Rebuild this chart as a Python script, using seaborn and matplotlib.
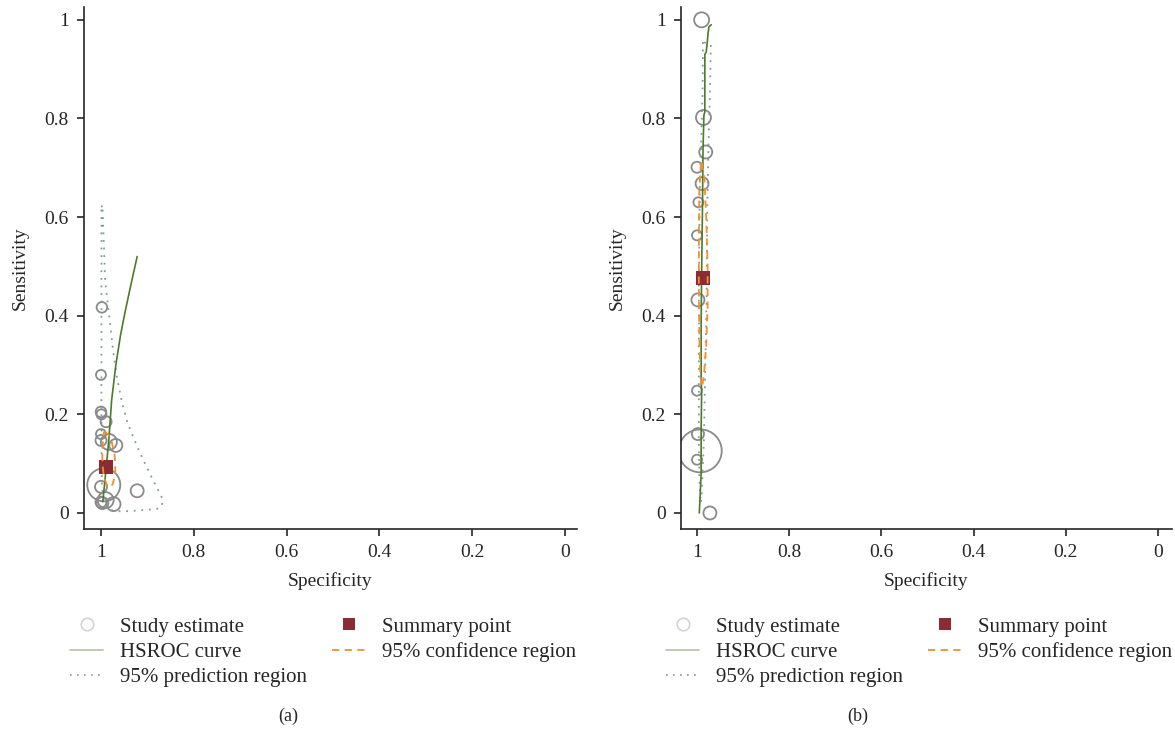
import numpy as np
import pandas as pd
import matplotlib
matplotlib.use("Agg")
import matplotlib.pyplot as plt
from matplotlib.lines import Line2D
import seaborn as sns

# ---------------- data ----------------
# Panel (a): study estimates
a_spec = [0.998, 1.000, 1.000, 0.999, 0.989, 1.000, 1.000, 0.983, 0.968, 0.922,
          0.994, 1.000, 0.990, 1.000, 0.997, 0.973]
a_sens = [0.417, 0.280, 0.205, 0.200, 0.185, 0.160, 0.147, 0.144, 0.137, 0.045,
          0.057, 0.053, 0.026, 0.022, 0.020, 0.018]
a_rad = [5.3, 5.0, 5.3, 5.0, 5.5, 5.0, 5.5, 8.0, 6.5, 6.5,
         16.5, 6.0, 8.0, 5.5, 6.0, 7.0]
a_sum_spec = [0.989]
a_sum_sens = [0.093]
a_hsroc_spec = [0.996, 0.990, 0.983, 0.977, 0.968, 0.958, 0.948, 0.935, 0.922]
a_hsroc_sens = [0.023, 0.080, 0.150, 0.229, 0.300, 0.360, 0.408, 0.465, 0.520]
a_pred_spec = [0.999, 0.997, 0.994, 0.991, 0.986, 0.981, 0.974, 0.966, 0.956, 0.945,
               0.931, 0.916, 0.902, 0.888, 0.876, 0.866, 0.870, 0.880, 0.920, 0.955,
               0.975, 0.990, 0.998, 0.999, 0.999, 0.999]
a_pred_sens = [0.620, 0.625, 0.550, 0.470, 0.430, 0.390, 0.330, 0.277, 0.230, 0.189,
               0.155, 0.122, 0.094, 0.067, 0.045, 0.026, 0.012, 0.008, 0.005, 0.003,
               0.005, 0.015, 0.050, 0.200, 0.400, 0.620]
a_conf_spec = [0.993, 0.985, 0.977, 0.971, 0.969, 0.970, 0.975, 0.981, 0.988, 0.994,
               0.997, 0.997, 0.995, 0.993]
a_conf_sens = [0.165, 0.160, 0.145, 0.120, 0.095, 0.075, 0.058, 0.052, 0.058, 0.075,
               0.100, 0.130, 0.155, 0.165]

# Panel (b): study estimates
b_spec = [0.990, 0.986, 0.981, 1.000, 0.989, 0.997, 1.000, 0.998, 1.000, 0.998,
          1.000, 0.993, 0.972]
b_sens = [1.000, 0.802, 0.732, 0.701, 0.668, 0.630, 0.563, 0.432, 0.248, 0.160,
          0.108, 0.126, 0.000]
b_rad = [7.5, 7.5, 6.5, 5.5, 6.5, 5.0, 5.0, 6.5, 5.0, 6.0, 5.0, 21.5, 6.5]
b_sum_spec = [0.988]
b_sum_sens = [0.477]
b_hsroc_spec = [0.995, 0.993, 0.991, 0.991, 0.990, 0.991, 0.991, 0.990, 0.988, 0.987,
                0.985, 0.983, 0.983, 0.980, 0.978, 0.976, 0.974, 0.969]
b_hsroc_sens = [0.000, 0.040, 0.080, 0.170, 0.240, 0.270, 0.390, 0.480, 0.630, 0.735,
                0.807, 0.813, 0.930, 0.935, 0.952, 0.973, 0.986, 0.990]
b_pred_spec = [0.987, 0.988, 0.991, 0.994, 0.995, 0.996, 0.996, 0.996, 0.995, 0.992,
               0.990, 0.988, 0.985, 0.983, 0.981, 0.979, 0.978, 0.975, 0.972, 0.970,
               0.987]
b_pred_sens = [0.955, 0.850, 0.750, 0.650, 0.550, 0.450, 0.300, 0.150, 0.070, 0.020,
               0.030, 0.080, 0.150, 0.250, 0.350, 0.450, 0.600, 0.750, 0.850, 0.950,
               0.955]
b_conf_spec = [0.990, 0.984, 0.980, 0.977, 0.977, 0.980, 0.985, 0.989, 0.993, 0.995,
               0.996, 0.996, 0.995, 0.992, 0.990]
b_conf_sens = [0.710, 0.680, 0.600, 0.500, 0.420, 0.340, 0.280, 0.255, 0.280, 0.360,
               0.460, 0.560, 0.650, 0.700, 0.710]

tick_vals = [1, 0.8, 0.6, 0.4, 0.2, 0]
tick_labels = ["1", "0.8", "0.6", "0.4", "0.2", "0"]
legend_labels = ["Study estimate", "HSROC curve", "95% prediction region",
                 "Summary point", "95% confidence region"]
captions = ["(a)", "(b)"]

# ---------------- style ----------------
sns.set_style("ticks")
plt.rcParams["font.family"] = ["Liberation Serif", "DejaVu Serif"]
plt.rcParams["axes.linewidth"] = 1.2

C_CIRCLE = "#8a8a8a"
C_HSROC = "#4e7a2c"
C_PRED = "#7f9c9c"
C_CONF = "#f0902e"
C_SUM = "#8b2c35"

W, H = 1175, 729
fig = plt.figure(figsize=(W / 100, H / 100), dpi=100)


def px_axes(left, right, top, bottom):
    return fig.add_axes([left / W, 1 - bottom / H, (right - left) / W, (bottom - top) / H])


def draw_panel(ax, spec, sens, rad, sspec, ssens, hs, hse, ps, pse, cs, cse, xlim, ylim):
    s_vals = [(1.44 * r) ** 2 for r in rad]
    df = pd.DataFrame({"spec": spec, "sens": sens, "s": s_vals})
    sns.scatterplot(data=df, x="spec", y="sens", size="s",
                    sizes=(min(s_vals), max(s_vals)), legend=False, ax=ax,
                    marker="o", linewidth=1.3, zorder=2)
    coll = ax.collections[-1]
    coll.set_facecolor("none")
    coll.set_edgecolor(C_CIRCLE)

    sns.lineplot(x=ps, y=pse, sort=False, estimator=None, ax=ax, color=C_PRED,
                 lw=1.3, linestyle=(0, (1, 3.2)), zorder=3)
    sns.lineplot(x=hs, y=hse, sort=False, estimator=None, ax=ax, color=C_HSROC,
                 lw=1.2, zorder=4)
    sns.scatterplot(x=sspec, y=ssens, marker="s", s=95, color=C_SUM,
                    linewidth=0, ax=ax, zorder=5)
    sns.lineplot(x=cs, y=cse, sort=False, estimator=None, ax=ax, color=C_CONF,
                 lw=1.3, linestyle=(0, (4, 3)), zorder=6)

    ax.set_xlim(*xlim)
    ax.set_ylim(*ylim)
    ax.set_xticks(tick_vals)
    ax.set_xticklabels(tick_labels)
    ax.set_yticks(tick_vals)
    ax.set_yticklabels(tick_labels)
    ax.tick_params(axis="both", direction="out", length=5, width=1.2,
                   labelsize=14, pad=6)
    ax.set_xlabel("Specificity", fontsize=14, labelpad=8)
    ax.set_ylabel("Sensitivity", fontsize=14, labelpad=11)
    sns.despine(ax=ax)


ax1 = px_axes(84, 577, 7, 529)
draw_panel(ax1, a_spec, a_sens, a_rad, a_sum_spec, a_sum_sens,
           a_hsroc_spec, a_hsroc_sens, a_pred_spec, a_pred_sens,
           a_conf_spec, a_conf_sens, (1.0366, -0.0259), (-0.0325, 1.026))

ax2 = px_axes(681, 1172, 7, 529)
draw_panel(ax2, b_spec, b_sens, b_rad, b_sum_spec, b_sum_sens,
           b_hsroc_spec, b_hsroc_sens, b_pred_spec, b_pred_sens,
           b_conf_spec, b_conf_sens, (1.0347, -0.030), (-0.0325, 1.026))


def legend_handles():
    return [
        Line2D([], [], ls="none", marker="o", markersize=9, markerfacecolor="none",
               markeredgecolor="#d4d4d4", markeredgewidth=1.2),
        Line2D([], [], color="#b9c8ad", lw=1.3),
        Line2D([], [], color=C_PRED, lw=1.2, linestyle=(0, (1, 3.2))),
        Line2D([], [], ls="none", marker="s", markersize=9, markerfacecolor=C_SUM,
               markeredgewidth=0),
        Line2D([], [], color=C_CONF, lw=1.3, linestyle=(0, (4, 3))),
    ]


for x0, cap, cx in [(70, captions[0], 288), (666, captions[1], 858)]:
    fig.legend(legend_handles(), legend_labels, loc="upper left",
               bbox_to_anchor=(x0 / W, 1 - 617 / H), ncol=2, frameon=False,
               fontsize=15, handlelength=1.6, handletextpad=0.8,
               labelspacing=0.28, columnspacing=1.2, borderpad=0,
               borderaxespad=0)
    fig.text(cx / W, 1 - 716 / H, cap, ha="center", va="center", fontsize=13)

fig.savefig("out.png", dpi=100)
